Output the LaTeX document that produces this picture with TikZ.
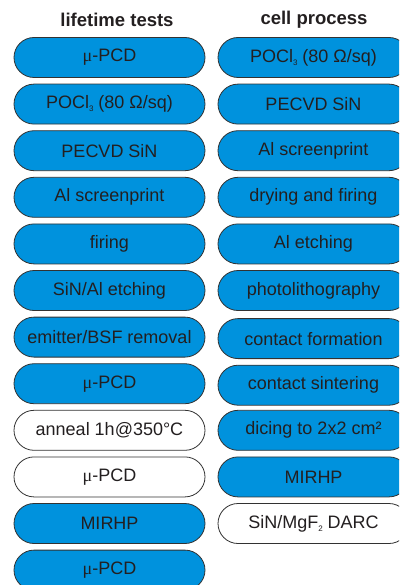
\documentclass[tikz,border=0pt]{standalone}
\usepackage{fontspec}
\setmainfont{Liberation Sans}
\newfontfamily\muf{Liberation Serif}
\definecolor{boxblue}{RGB}{0,146,221}
\definecolor{txt}{RGB}{35,31,32}
\definecolor{edge}{RGB}{50,50,50}
\newcommand{\mupcd}{{\muf μ}-PCD}
\newcommand{\subs}[1]{\raisebox{-3pt}{\fontsize{8}{8}\selectfont #1}}
\begin{document}
\begin{tikzpicture}[x=1pt,y=-1pt,
  stepbox/.style={draw=edge, line width=0.8pt, rounded corners=20pt,
    minimum width=191pt, minimum height=40pt, inner sep=0pt,
    text=txt, font=\fontsize{18}{20}\selectfont},
  bluebox/.style={stepbox, fill=boxblue},
  whitebox/.style={stepbox, fill=white},
  head/.style={text=txt, font=\fontsize{18.5}{20}\selectfont\bfseries}]
\useasboundingbox (0,0) rectangle (399,585);
\clip (0,0) rectangle (399,585);
\node[head] (h1) at (117,20) {lifetime tests};
\node[head] (h2) at (314,20) {cell process};
% left column
\node[bluebox] (l1) at (109.5,57.5) {\mupcd};
\node[bluebox] (l2) at (109.5,104.1) {POCl\subs{3} (80 Ω/sq)};
\node[bluebox] (l3) at (109.5,150.7) {PECVD SiN};
\node[bluebox] (l4) at (109.5,197.3) {Al screenprint};
\node[bluebox] (l5) at (109.5,243.9) {firing};
\node[bluebox] (l6) at (109.5,290.5) {SiN/Al etching};
\node[bluebox] (l7) at (109.5,337.1) {emitter/BSF removal};
\node[bluebox] (l8) at (109.5,383.7) {\mupcd};
\node[whitebox] (l9) at (109.5,430.3) {anneal 1h@350°C};
\node[whitebox] (l10) at (109.5,476.9) {\mupcd};
\node[bluebox] (l11) at (109.5,523.5) {MIRHP};
\node[bluebox] (l12) at (109.5,570.1) {\mupcd};
% right column
\node[bluebox] (r1) at (313.5,57.5) {POCl\subs{3} (80 Ω/sq)};
\node[bluebox] (r2) at (313.5,104.1) {PECVD SiN};
\node[bluebox] (r3) at (313.5,150.7) {Al screenprint};
\node[bluebox] (r4) at (313.5,197.3) {drying and firing};
\node[bluebox] (r5) at (313.5,243.9) {Al etching};
\node[bluebox] (r6) at (313.5,290.5) {photolithography};
\node[bluebox] (r7) at (313.5,338.6) {contact formation};
\node[bluebox] (r8) at (313.5,385.2) {contact sintering};
\node[bluebox] (r9) at (313.5,430.3) {dicing to 2x2 cm²};
\node[bluebox] (r10) at (313.5,476.9) {MIRHP};
\node[whitebox] (r11) at (313.5,523.5) {SiN/MgF\subs{2} DARC};
\end{tikzpicture}
\end{document}
